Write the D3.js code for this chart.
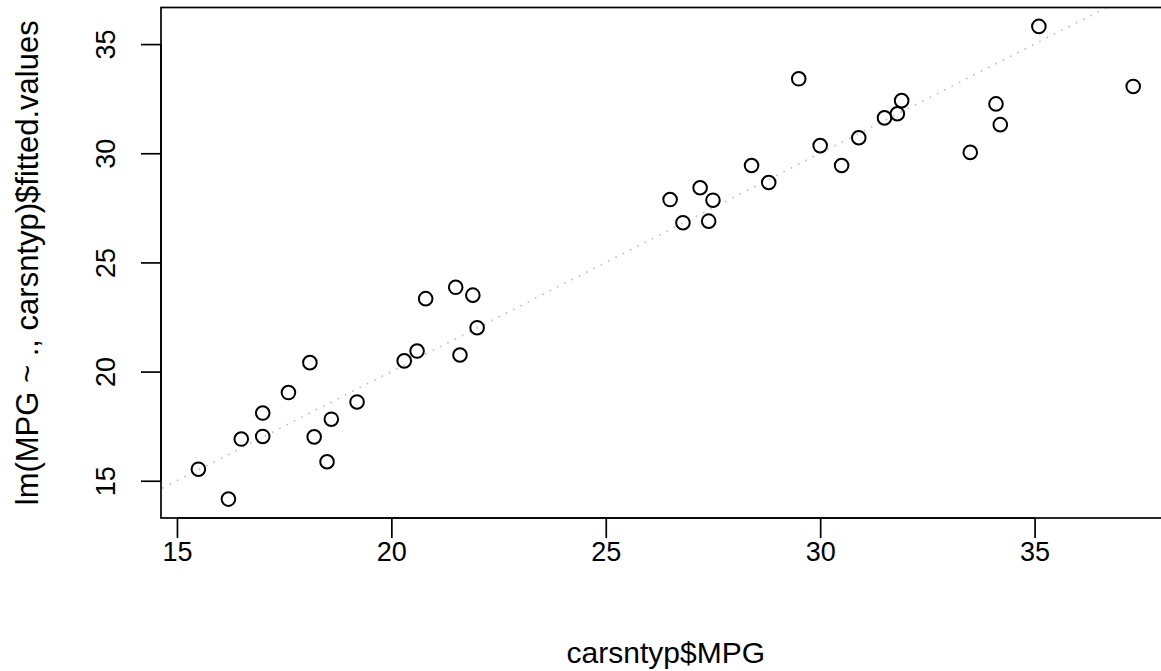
<!DOCTYPE html>
<html>
<head>
<meta charset="utf-8">
<script src="https://cdn.jsdelivr.net/npm/d3@7"></script>
<style>
  body { margin: 0; background: #fff; }
  svg { display: block; font-family: "Liberation Sans", Arial, sans-serif; }
</style>
</head>
<body>
<svg id="chart"></svg>
<script>
// observed MPG vs fitted values from lm(MPG ~ ., carsntyp)
var mpg = [15.5, 16.2, 16.5, 17.0, 17.0, 17.6, 18.1, 18.2, 18.5, 18.6, 19.2,
           20.3, 20.6, 20.8, 21.5, 21.6, 21.9, 22.0,
           26.5, 26.8, 27.2, 27.4, 27.5, 28.4, 28.8,
           29.5, 30.0, 30.5, 30.9, 31.5, 31.8, 31.9,
           33.5, 34.1, 34.2, 35.1, 37.3];
var fitted = [15.53, 14.16, 16.91, 17.03, 18.10, 19.04, 20.41, 17.01, 15.87, 17.82, 18.61,
              20.49, 20.94, 23.34, 23.86, 20.76, 23.50, 22.01,
              27.88, 26.82, 28.42, 26.89, 27.85, 29.44, 28.66,
              33.41, 30.35, 29.44, 30.71, 31.62, 31.81, 32.41,
              30.04, 32.26, 31.31, 35.81, 33.06];
var xTicks = [15, 20, 25, 30, 35];
var yTicks = [15, 20, 25, 30, 35];
var xLabel = "carsntyp$MPG";
var yLabel = "lm(MPG ~ ., carsntyp)$fitted.values";

var width = 1161, height = 671;
var mLeft = 161, mTop = 7.5, pw = 1009.6, ph = 510.5;

var chart = d3.select("#chart").attr("width", width).attr("height", height);

// R style 4% padding around the data range
function pad(ext) {
  var d = (ext[1] - ext[0]) * 0.04;
  return [ext[0] - d, ext[1] + d];
}

var xscale = d3.scaleLinear().domain(pad(d3.extent(mpg))).range([mLeft, mLeft + pw]);
var yscale = d3.scaleLinear().domain(pad(d3.extent(fitted))).range([mTop + ph, mTop]);

chart.append("defs").append("clipPath").attr("id", "plotclip")
  .append("rect").attr("x", mLeft).attr("y", mTop).attr("width", pw).attr("height", ph);

// y = x reference line
var lo = Math.min(xscale.domain()[0], yscale.domain()[0]);
var hi = Math.max(xscale.domain()[1], yscale.domain()[1]);
chart.append("line")
  .attr("clip-path", "url(#plotclip)")
  .attr("x1", xscale(lo)).attr("y1", yscale(lo))
  .attr("x2", xscale(hi)).attr("y2", yscale(hi))
  .style("stroke", "#c4c4c4")
  .style("stroke-width", 1.7)
  .style("stroke-dasharray", "1.7,6.5");

// points
chart.selectAll("circle.pt").data(mpg).enter()
  .append("circle")
  .attr("class", "pt")
  .attr("cx", function(d) { return xscale(d); })
  .attr("cy", function(d, i) { return yscale(fitted[i]); })
  .attr("r", 6.8)
  .style("fill", "none")
  .style("stroke", "black")
  .style("stroke-width", 2);

// box
chart.append("rect")
  .attr("x", mLeft).attr("y", mTop).attr("width", pw).attr("height", ph)
  .style("fill", "none").style("stroke", "black").style("stroke-width", 1.7);

// axes
var xAxis = d3.axisBottom(xscale).tickValues(xTicks).tickSize(20);
var gx = chart.append("g").attr("transform", "translate(0," + (mTop + ph) + ")").call(xAxis);
gx.select(".domain").attr("d", "M" + xscale(15) + ",0H" + xscale(35)).style("stroke-width", 1.7);
gx.selectAll(".tick line").style("stroke-width", 1.7);
gx.selectAll(".tick text").style("font-size", "27px").style("fill", "black")
  .attr("y", 0).attr("dy", null).attr("transform", "translate(0,36)")
  .attr("dominant-baseline", "middle");

var yAxis = d3.axisLeft(yscale).tickValues(yTicks).tickSize(20);
var gy = chart.append("g").attr("transform", "translate(" + mLeft + ",0)").call(yAxis);
gy.select(".domain").attr("d", "M0," + yscale(15) + "V" + yscale(35)).style("stroke-width", 1.7);
gy.selectAll(".tick line").style("stroke-width", 1.7);
gy.selectAll(".tick text").style("font-size", "27px").style("fill", "black")
  .attr("x", 0).attr("y", 0).attr("dy", null)
  .attr("text-anchor", "middle").attr("dominant-baseline", "middle")
  .attr("transform", "translate(-53,0) rotate(-90)");

chart.append("text")
  .attr("x", mLeft + pw / 2)
  .attr("y", 655)
  .attr("text-anchor", "middle").attr("dominant-baseline", "middle")
  .style("font-size", "30px")
  .text(xLabel);

chart.append("text")
  .attr("transform", "translate(30," + (mTop + ph / 2) + ") rotate(-90)")
  .attr("text-anchor", "middle").attr("dominant-baseline", "middle")
  .style("font-size", "31px")
  .text(yLabel);
</script>
</body>
</html>
